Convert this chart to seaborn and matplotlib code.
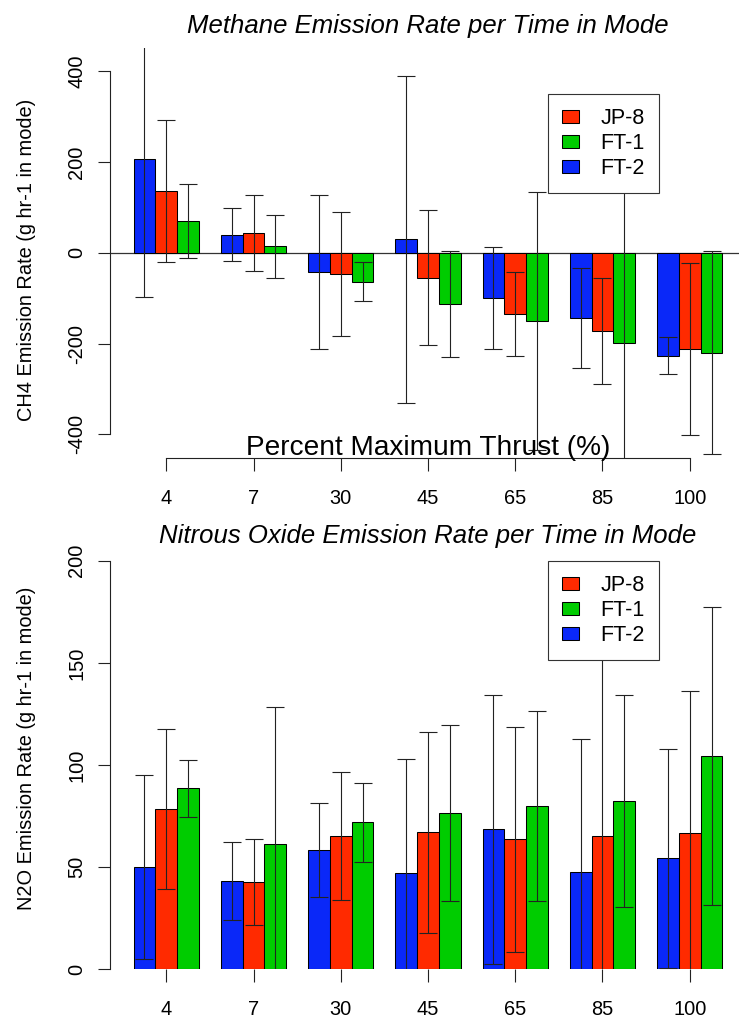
import numpy as np
import pandas as pd
import matplotlib
matplotlib.use('Agg')
import matplotlib.pyplot as plt
import matplotlib.colors as mcolors
import matplotlib.transforms as mtrans
from matplotlib.patches import Patch
import seaborn as sns

# ---------------- data ----------------
modes = ['4', '7', '30', '45', '65', '85', '100']
legend_order = ['JP-8', 'FT-1', 'FT-2']
bar_order = ['FT-2', 'JP-8', 'FT-1']
colors = {'FT-2': '#0A28F8', 'JP-8': '#FF2A00', 'FT-1': '#00CC00'}

# Methane (CH4) emission rate, g hr-1 in mode
ch4_jp8 = [136, 44, -47, -55, -135, -172, -212]
ch4_jp8_err = [156, 84, 136, 149, 92, 117, 190]
ch4_ft1 = [70, 14, -64, -113, -151, -198, -220]
ch4_ft1_err = [82, 69, 43, 117, 284, 350, 224]
ch4_ft2 = [206, 40, -42, 30, -100, -143, -227]
ch4_ft2_err = [304, 58, 170, 360, 113, 110, 41]

# Nitrous oxide (N2O) emission rate, g hr-1 in mode
n2o_jp8 = [78.4, 42.9, 65.2, 67.0, 63.7, 65.2, 66.8]
n2o_jp8_err = [39, 21, 31.5, 49, 55, 90, 69.5]
n2o_ft1 = [88.5, 61.3, 71.9, 76.6, 80.0, 82.5, 104.4]
n2o_ft1_err = [14, 67, 19.5, 43, 46.5, 52, 73]
n2o_ft2 = [50.0, 43.3, 58.2, 47.1, 68.5, 47.5, 54.3]
n2o_ft2_err = [45, 19, 23, 56, 66, 65, 53.5]

ch4_yticks = [-400, -200, 0, 200, 400]
n2o_yticks = [0, 50, 100, 150, 200]

# ---------------- style ----------------
sns.set_theme(style='white')
plt.rcParams['font.family'] = ['Liberation Sans', 'DejaVu Sans']
plt.rcParams['axes.unicode_minus'] = False
plt.rcParams['text.color'] = 'black'

W, H = 739, 1017
fig = plt.figure(figsize=(W / 100, H / 100), dpi=100)


def px_axes(left, right, top, bottom):
    return fig.add_axes([left / W, 1 - bottom / H, (right - left) / W, (bottom - top) / H])


def panel(ax, means, errs, ylim, yticks, title, title_pad, ylabel, ylabel_y, legend_top):
    rows = []
    for fuel in bar_order:
        for m, v in zip(modes, means[fuel]):
            rows.append({'mode': m, 'fuel': fuel, 'value': v})
    df = pd.DataFrame(rows)
    sns.barplot(data=df, x='mode', y='value', hue='fuel', order=modes,
                hue_order=bar_order, palette=colors, saturation=1,
                width=0.75, gap=0, errorbar=None, edgecolor='black',
                linewidth=0.75, legend=False, ax=ax, zorder=2)

    # error bars placed at the bar centres seaborn computed
    rgb_to_fuel = {mcolors.to_rgb(c): f for f, c in colors.items()}
    xs, ys, es = [], [], []
    for p in ax.patches:
        fuel = None
        fc = tuple(np.round(p.get_facecolor()[:3], 3))
        for rgb, f in rgb_to_fuel.items():
            if np.allclose(rgb, fc, atol=0.01):
                fuel = f
        if fuel is None:
            continue
        cx = p.get_x() + p.get_width() / 2
        idx = int(round(cx))
        xs.append(cx)
        ys.append(means[fuel][idx])
        es.append(errs[fuel][idx])
    ax.errorbar(xs, ys, yerr=es, fmt='none', ecolor='#222222', elinewidth=0.8,
                capsize=6.8, capthick=0.8, zorder=3)

    ax.set_xlim(-0.645, 6.645)
    ax.set_ylim(*ylim)
    ax.set_yticks(yticks)
    ax.set_yticklabels([str(t) for t in yticks], rotation=90, va='center')
    ax.tick_params(axis='both', which='both', bottom=True, left=True,
                   direction='out', length=9, width=0.8, color='#222222',
                   labelsize=14.4, labelcolor='black')
    ax.tick_params(axis='x', pad=13)
    ax.tick_params(axis='y', pad=8)
    for s in ['top', 'right']:
        ax.spines[s].set_visible(False)
    ax.spines['left'].set_bounds(yticks[0], yticks[-1])
    ax.spines['left'].set_color('#222222')
    ax.spines['left'].set_linewidth(0.8)
    ax.spines['bottom'].set_color('#222222')
    ax.spines['bottom'].set_linewidth(0.8)

    ax.set_xlabel('')
    ax.set_ylabel(ylabel, fontsize=14.4, color='black')
    ax.yaxis.set_label_coords(-0.1165, ylabel_y)
    ax.set_title(title, fontsize=18.5, style='italic', pad=title_pad, color='black')

    handles = [Patch(facecolor=colors[f], edgecolor='black', linewidth=0.75, label=f)
               for f in legend_order]
    leg = ax.legend(handles=handles, loc='upper left',
                    bbox_to_anchor=(548.3 / W, 1 - legend_top / H),
                    bbox_transform=fig.transFigure, borderaxespad=0,
                    frameon=True, fancybox=False, framealpha=1,
                    edgecolor='#333333', fontsize=15.5, labelcolor='black',
                    handlelength=0.79, handleheight=0.56, handletextpad=0.97,
                    borderpad=0.65, labelspacing=0.195)
    leg.get_frame().set_linewidth(0.8)
    leg.set_zorder(10)
    return ax


# ---------------- top: methane ----------------
ax1 = px_axes(110, 746, 48, 458)
panel(ax1,
      {'JP-8': ch4_jp8, 'FT-1': ch4_ft1, 'FT-2': ch4_ft2},
      {'JP-8': ch4_jp8_err, 'FT-1': ch4_ft1_err, 'FT-2': ch4_ft2_err},
      (-452, 451), ch4_yticks,
      'Methane Emission Rate per Time in Mode', 11,
      'CH4 Emission Rate (g hr-1 in mode)', 0.483, 94)
ax1.axhline(0, color='#333333', lw=0.9, zorder=1.5)
ax1.spines['bottom'].set_bounds(0, 6)
ax1.text(0.5, 0, 'Percent Maximum Thrust (%)', fontsize=20.2, color='black',
         ha='center', va='baseline',
         transform=mtrans.offset_copy(ax1.transAxes, fig=fig, x=0, y=3, units='dots'))

# ---------------- bottom: nitrous oxide ----------------
ax2 = px_axes(110, 746, 560.7, 969.3)
panel(ax2,
      {'JP-8': n2o_jp8, 'FT-1': n2o_ft1, 'FT-2': n2o_ft2},
      {'JP-8': n2o_jp8_err, 'FT-1': n2o_ft1_err, 'FT-2': n2o_ft2_err},
      (0, 200), n2o_yticks,
      'Nitrous Oxide Emission Rate per Time in Mode', 12.5,
      'N2O Emission Rate (g hr-1 in mode)', 0.542, 560.7)
ax2.spines['bottom'].set_visible(False)

fig.savefig('out.png', dpi=100)
